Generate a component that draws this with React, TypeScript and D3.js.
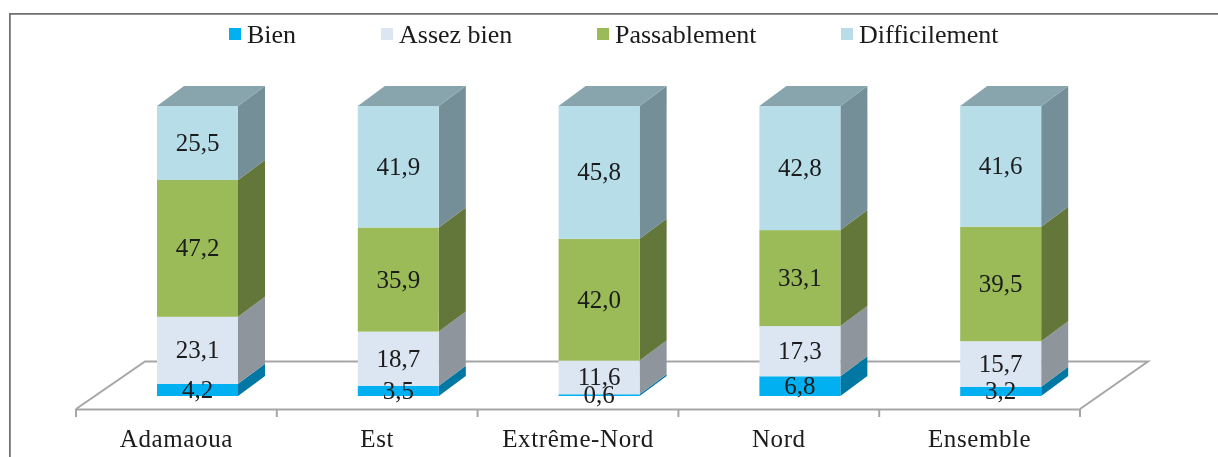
import * as d3 from "d3";
import React, { useEffect, useRef } from "react";

const regions = ["Adamaoua", "Est", "Extrême-Nord", "Nord", "Ensemble"];
const levels = ["Bien", "Assez bien", "Passablement", "Difficilement"];

const bien = [4.2, 3.5, 0.6, 6.8, 3.2];
const assezBien = [23.1, 18.7, 11.6, 17.3, 15.7];
const passablement = [47.2, 35.9, 42.0, 33.1, 39.5];
const difficilement = [25.5, 41.9, 45.8, 42.8, 41.6];

const frontColors = ["#00b0f0", "#dce6f2", "#9bbb59", "#b7dde8"];
const sideColors = ["#0078a3", "#8e959d", "#64773a", "#748f99"];
const topColor = "#88a5ae";
const floorColor = "#a6a6a6";
const legendX = [229, 381, 597, 841];

const width = 1218;
const height = 457;
const font = "'Liberation Serif', serif";

const App = () => {
  const ref = useRef<SVGSVGElement>(null);

  useEffect(() => {
    const svg = d3.select(ref.current);
    svg.selectAll("*").remove();

    const series = [bien, assezBien, passablement, difficilement];
    const barWidth = 81;
    const depthX = 27;
    const depthY = 20;
    const barOffset = 81;

    const x = d3.scaleBand().domain(regions).range([76, 1080]);
    const y = d3.scaleLinear().domain([0, 100]).range([396, 106]);
    const line = d3.line();

    const blur = svg
      .append("defs")
      .append("filter")
      .attr("id", "soft")
      .attr("x", 0)
      .attr("y", 0)
      .attr("width", 1)
      .attr("height", 1);
    blur.append("feGaussianBlur").attr("stdDeviation", 0.4);

    const root = svg.append("g").attr("filter", "url(#soft)");

    // frame, only left and top are visible in the picture
    root
      .append("path")
      .attr("d", `M9.5 ${height}V13.5H${width}`)
      .attr("fill", "none")
      .attr("stroke", "#6f6f6f")
      .attr("stroke-width", 2.5);

    // floor
    root
      .append("path")
      .attr("d", "M76 409L145 361.5H1148L1080 409")
      .attr("fill", "none")
      .attr("stroke", floorColor)
      .attr("stroke-width", 2);

    const xAxis = d3.axisBottom(x).tickSize(0).tickPadding(20);
    const xAxisG = root
      .append("g")
      .attr("transform", "translate(0, 409)")
      .call(xAxis);
    xAxisG.select(".domain").attr("stroke", floorColor).attr("stroke-width", 2);
    xAxisG
      .selectAll("text")
      .attr("font-family", font)
      .attr("font-size", 25)
      .attr("letter-spacing", 0.6)
      .attr("fill", "#1a1a1a");

    const tickValues = [...regions.map((r) => x(r) as number), 1080];
    root
      .selectAll(".floor-tick")
      .data(tickValues)
      .join("line")
      .attr("x1", (d) => d)
      .attr("x2", (d) => d)
      .attr("y1", 409)
      .attr("y2", 417)
      .attr("stroke", floorColor)
      .attr("stroke-width", 2);

    regions.forEach((region, i) => {
      const left = (x(region) as number) + barOffset;
      const right = left + barWidth;
      const g = root.append("g");
      let acc = 0;

      series.forEach((values, s) => {
        const yBottom = y(acc);
        const yTop = y(acc + values[i]);
        acc += values[i];

        g.append("path")
          .attr(
            "d",
            line([
              [right, yBottom],
              [right + depthX, yBottom - depthY],
              [right + depthX, yTop - depthY],
              [right, yTop],
            ]) + "Z"
          )
          .attr("fill", sideColors[s]);

        g.append("rect")
          .attr("x", left)
          .attr("y", yTop)
          .attr("width", barWidth)
          .attr("height", yBottom - yTop)
          .attr("fill", frontColors[s]);

        if (s === series.length - 1) {
          g.append("path")
            .attr(
              "d",
              line([
                [left, yTop],
                [left + depthX, yTop - depthY],
                [right + depthX, yTop - depthY],
                [right, yTop],
              ]) + "Z"
            )
            .attr("fill", topColor);
        }
      });

      // labels go on top of every segment of the bar
      acc = 0;
      series.forEach((values) => {
        const v = values[i];
        g.append("text")
          .attr("x", left + barWidth / 2)
          .attr("y", y(acc + v / 2) + 8)
          .attr("text-anchor", "middle")
          .attr("font-family", font)
          .attr("font-size", 25)
          .attr("fill", "#1a1a1a")
          .text(v.toFixed(1).replace(".", ","));
        acc += v;
      });
    });

    // legend
    levels.forEach((level, i) => {
      root
        .append("rect")
        .attr("x", legendX[i])
        .attr("y", 28)
        .attr("width", 12)
        .attr("height", 12)
        .attr("fill", frontColors[i]);
      root
        .append("text")
        .attr("x", legendX[i] + 18)
        .attr("y", 43)
        .attr("font-family", font)
        .attr("font-size", 26)
        .attr("fill", "#1a1a1a")
        .text(level);
    });
  }, []);

  return (
    <svg
      ref={ref}
      width={width}
      height={height}
      style={{ position: "absolute", left: 0, top: 0, background: "#fff" }}
    ></svg>
  );
};

export default App;
